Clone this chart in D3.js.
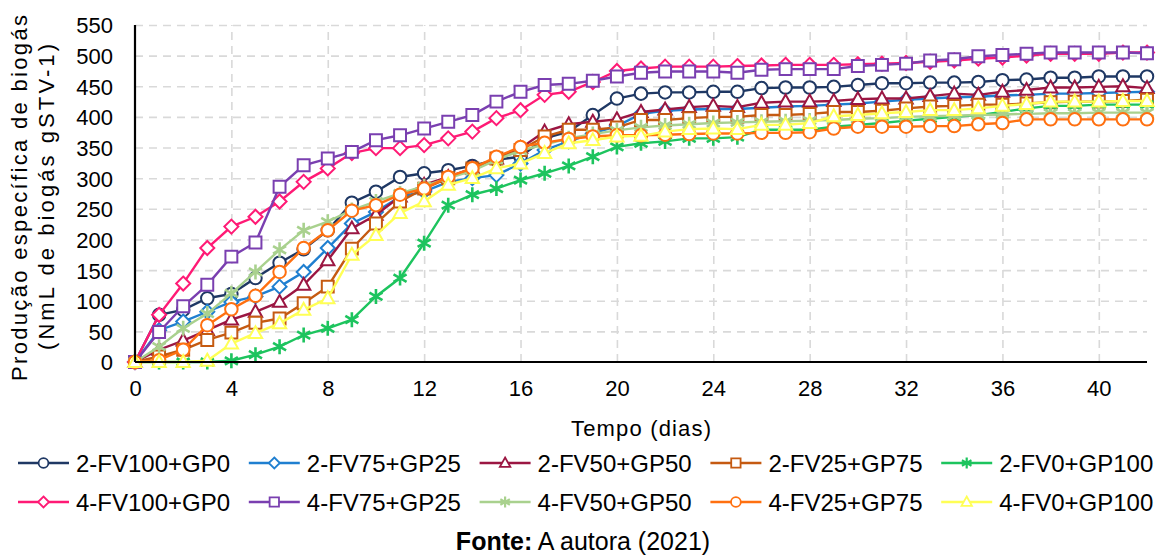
<!DOCTYPE html>
<html>
<head>
<meta charset="UTF-8">
<title>Produção específica de biogás</title>
<script src="https://cdn.jsdelivr.net/npm/d3@7"></script>
<style>
  body { margin: 0; background: #fff; }
  svg text { font-family: "Liberation Sans", Arial, sans-serif; fill: #000; }
</style>
</head>
<body>
<svg id="chart" width="1166" height="557"></svg>
<script>
// dias de digestão
var days = [0,1,2,3,4,5,6,7,8,9,10,11,12,13,14,15,16,17,18,19,20,
            21,22,23,24,25,26,27,28,29,30,31,32,33,34,35,36,37,38,39,40,41,42];

var xTicks = [0,4,8,12,16,20,24,28,32,36,40];
var yTicks = [0,50,100,150,200,250,300,350,400,450,500,550];

// NmL de biogás / gSTV
var v2_FV100_GP0 = [0,77,85,104,111,137,162,184,215,260,278,302,308,313,320,330,335,365,376,403,430,
                    438,440,440,441,441,447,448,448,449,452,455,455,456,456,457,460,461,464,464,466,466,466];
var v2_FV75_GP25 = [0,52,66,82,98,107,123,147,186,226,245,270,278,294,300,305,324,346,360,373,385,
                    405,410,412,413,413,415,417,418,420,422,425,428,430,432,433,435,436,438,438,439,440,441];
var v2_FV50_GP50 = [0,20,35,52,69,82,98,126,166,218,240,270,289,302,316,332,349,376,388,392,396,
                    408,412,416,418,416,423,425,425,426,429,430,430,434,438,436,441,444,448,448,449,450,447];
var v2_FV25_GP75 = [0,9,20,36,48,64,71,96,123,185,226,262,283,300,316,332,346,368,379,379,383,
                    395,395,398,400,400,403,403,405,408,408,410,414,417,418,420,420,422,424,425,425,426,428];
var v2_FV0_GP100 = [0,0,0,0,2,12,25,44,55,69,107,137,194,256,273,283,297,308,320,335,351,
                    357,360,365,365,367,379,379,379,384,387,390,394,397,400,403,408,414,418,418,420,420,420];
var v4_FV100_GP0 = [0,77,128,186,221,237,262,294,316,341,349,349,354,365,376,398,411,436,441,457,475,
                    479,482,482,482,483,484,485,485,485,486,487,488,490,492,495,497,500,503,503,503,505,505];
var v4_FV75_GP25 = [0,49,91,126,172,195,286,321,332,343,362,370,381,392,403,425,441,452,454,459,466,
                    472,474,474,474,472,477,478,478,478,483,485,487,492,494,499,501,503,505,505,505,505,504];
var v4_FV50_GP50 = [0,25,55,79,112,147,183,215,229,248,262,275,287,300,312,330,345,355,365,372,378,
                    383,386,388,390,391,392,393,394,395,397,398,400,401,402,403,404,405,406,406,407,407,407];
var v4_FV25_GP75 = [0,3,20,60,86,108,147,186,215,247,256,273,283,302,316,335,351,358,364,368,370,
                    370,371,372,373,373,374,374,375,381,384,384,384,385,385,388,390,396,396,396,396,396,396];
var v4_FV0_GP100 = [0,0,0,2,30,47,63,85,104,175,207,243,262,289,300,316,324,341,357,362,368,
                    369,376,380,381,380,387,387,390,401,403,406,408,411,411,414,418,421,425,425,425,426,426];

var seriesNames = ["2-FV100+GP0","2-FV75+GP25","2-FV50+GP50","2-FV25+GP75","2-FV0+GP100",
                   "4-FV100+GP0","4-FV75+GP25","4-FV50+GP50","4-FV25+GP75","4-FV0+GP100"];
var seriesValues = [v2_FV100_GP0, v2_FV75_GP25, v2_FV50_GP50, v2_FV25_GP75, v2_FV0_GP100,
                    v4_FV100_GP0, v4_FV75_GP25, v4_FV50_GP50, v4_FV25_GP75, v4_FV0_GP100];
var seriesColors = ["#1f3864","#1f7fd0","#9b1642","#c55a11","#1dc45e",
                    "#ff1a75","#7a3fb0","#a9d18e","#ff7010","#ffff55"];
var seriesMarkers = ["circle","diamond","triangle","square","star",
                     "diamond","square","star","circle","triangle"];

var svg = d3.select("#chart");
var plotL = 135, plotR = 1147, plotT = 25, plotB = 362;

var x = d3.scaleLinear().domain([0, 42]).range([plotL, plotR]);
var y = d3.scaleLinear().domain([0, 550]).range([plotB, plotT]);

// grade tracejada
svg.append("g")
  .attr("transform", "translate(0," + plotB + ")")
  .call(d3.axisBottom(x).tickValues(xTicks.slice(1)).tickSize(-(plotB - plotT)).tickFormat(""))
  .call(function (g) { g.select(".domain").remove(); })
  .selectAll("line")
  .attr("stroke", "#d9d9d9").attr("stroke-width", 1.6).attr("stroke-dasharray", "8,6");

svg.append("g")
  .attr("transform", "translate(" + plotL + ",0)")
  .call(d3.axisLeft(y).tickValues(yTicks.slice(1)).tickSize(-(plotR - plotL)).tickFormat(""))
  .call(function (g) { g.select(".domain").remove(); })
  .selectAll("line")
  .attr("stroke", "#d9d9d9").attr("stroke-width", 1.6).attr("stroke-dasharray", "8,6");

// rótulos dos eixos
var xAxis = svg.append("g")
  .attr("transform", "translate(0," + plotB + ")")
  .call(d3.axisBottom(x).tickValues(xTicks).tickSize(0).tickPadding(0));
xAxis.select(".domain").remove();
xAxis.selectAll("text").attr("y", 34).attr("dy", null)
  .style("font-size", "22px").style("font-family", "'Liberation Sans', Arial, sans-serif");

var yAxis = svg.append("g")
  .attr("transform", "translate(" + plotL + ",0)")
  .call(d3.axisLeft(y).tickValues(yTicks).tickSize(0).tickPadding(22));
yAxis.select(".domain").remove();
yAxis.selectAll("text").attr("dy", "0.36em")
  .style("font-size", "22px").style("font-family", "'Liberation Sans', Arial, sans-serif");

function markerPath(type, s) {
  if (type === "diamond") return "M0," + (-s) + "L" + s + ",0L0," + s + "L" + (-s) + ",0Z";
  if (type === "square") return "M" + (-s * 0.85) + "," + (-s * 0.85) + "h" + (s * 1.7) + "v" + (s * 1.7) + "h" + (-s * 1.7) + "Z";
  if (type === "triangle") return "M0," + (-s) + "L" + (s * 0.95) + "," + (s * 0.7) + "L" + (-s * 0.95) + "," + (s * 0.7) + "Z";
  if (type === "star") {
    var a = s * 0.87, b = s * 0.5;
    return "M0," + (-s) + "V" + s + "M" + (-a) + "," + (-b) + "L" + a + "," + b + "M" + (-a) + "," + b + "L" + a + "," + (-b);
  }
  return d3.symbol(d3.symbolCircle, Math.PI * s * s * 0.8)();
}

var line = d3.line()
  .x(function (d, i) { return x(days[i]); })
  .y(function (d) { return y(d); });

seriesValues.forEach(function (vals, k) {
  var isStar = seriesMarkers[k] === "star";
  var g = svg.append("g");
  g.append("path")
    .attr("d", line(vals))
    .attr("fill", "none")
    .attr("stroke", seriesColors[k])
    .attr("stroke-width", 2.4);
  g.selectAll("path.mk")
    .data(vals)
    .enter().append("path")
    .attr("class", "mk")
    .attr("transform", function (d, i) { return "translate(" + x(days[i]) + "," + y(d) + ")"; })
    .attr("d", markerPath(seriesMarkers[k], isStar ? 7.5 : 7))
    .attr("fill", isStar ? "none" : "#fff")
    .attr("stroke", seriesColors[k])
    .attr("stroke-width", isStar ? 2.6 : 2);
});

// eixos
svg.append("line").attr("x1", plotL).attr("x2", plotL).attr("y1", plotT).attr("y2", plotB)
  .attr("stroke", "#000").attr("stroke-width", 2.2);
svg.append("line").attr("x1", plotL).attr("x2", plotR).attr("y1", plotB).attr("y2", plotB)
  .attr("stroke", "#000").attr("stroke-width", 2.2);

// títulos
svg.append("text")
  .attr("x", 641).attr("y", 436)
  .attr("text-anchor", "middle")
  .style("font-size", "22px")
  .attr("textLength", 140).attr("lengthAdjust", "spacing")
  .text("Tempo (dias)");

svg.append("text")
  .attr("transform", "translate(27,198) rotate(-90)")
  .attr("text-anchor", "middle")
  .style("font-size", "22px")
  .attr("textLength", 366).attr("lengthAdjust", "spacing")
  .text("Produção específica de biogás");

svg.append("text")
  .attr("transform", "translate(54,197) rotate(-90)")
  .attr("text-anchor", "middle")
  .style("font-size", "22px")
  .attr("textLength", 306).attr("lengthAdjust", "spacing")
  .text("(NmL de biogás gSTV-1)");

// legenda
var legend = svg.append("g");
seriesNames.forEach(function (name, k) {
  var col = k % 5, row = Math.floor(k / 5);
  var lx = 18 + col * 230.8, ly = 463 + row * 39;
  var it = legend.append("g").attr("transform", "translate(" + lx + "," + ly + ")");
  it.append("line").attr("x1", 0).attr("x2", 51).attr("y1", 0).attr("y2", 0)
    .attr("stroke", seriesColors[k]).attr("stroke-width", 2.4);
  it.append("path")
    .attr("transform", "translate(25.5,0)")
    .attr("d", markerPath(seriesMarkers[k], 5.5))
    .attr("fill", seriesMarkers[k] === "star" ? "none" : "#fff")
    .attr("stroke", seriesColors[k]).attr("stroke-width", seriesMarkers[k] === "star" ? 2.2 : 1.8);
  it.append("text").attr("x", 58).attr("y", 8.5)
    .style("font-size", "24px")
    .text(name);
});

var fonte = svg.append("text")
  .attr("x", 583).attr("y", 550)
  .attr("text-anchor", "middle")
  .style("font-size", "25px");
fonte.append("tspan").style("font-weight", "bold").text("Fonte:");
fonte.append("tspan").text(" A autora (2021)");
</script>
</body>
</html>
